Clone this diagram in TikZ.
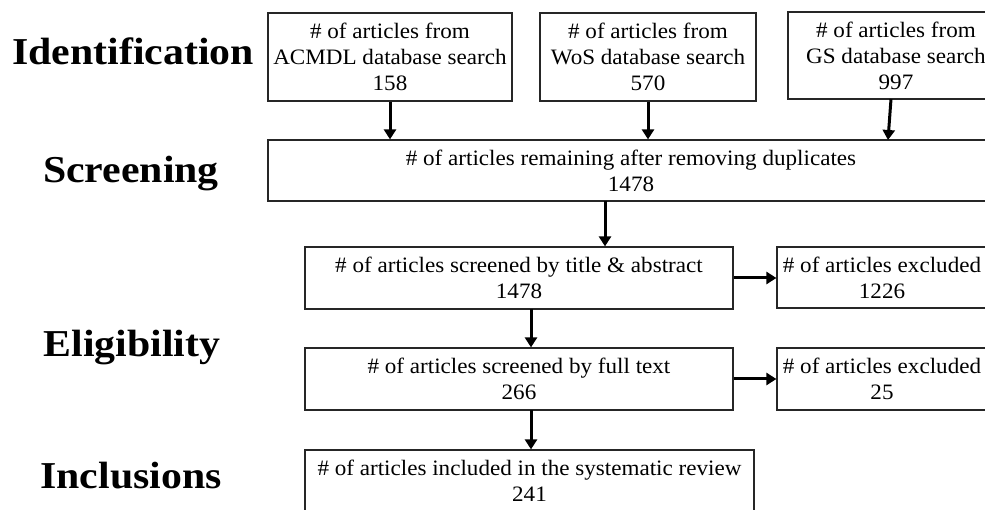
\documentclass[tikz,border=0pt]{standalone}
\usepackage{fontspec}
\setmainfont{Liberation Serif}[FakeStretch=1.05]
\newfontfamily\labfont{Liberation Serif}[FakeStretch=1.1]
\usetikzlibrary{arrows.meta}
\begin{document}
\begin{tikzpicture}[x=1pt,y=-1pt,
  box/.style={draw=black!85, line width=1.2pt, inner sep=0pt, align=center,
    font=\fontsize{22}{26}\selectfont},
  phase/.style={anchor=base, inner sep=0pt, font=\labfont\bfseries\fontsize{38}{40}\selectfont},
  arr/.style={line width=3pt, -{Triangle[length=10pt,width=12pt]}}]
\useasboundingbox (0,0) rectangle (985,510);
% phase labels
\node[phase] (l1) at (133,65) {Identification};
\node[phase] (l2) at (131,183) {Screening};
\node[phase] (l3) at (132,356) {Eligibility};
\node[phase] (l4) at (131,488) {Inclusions};
% boxes
\node[box, minimum width=244pt, minimum height=88pt] (A) at (390,57)
  {\# of articles from\\ACMDL database search\\158};
\node[box, minimum width=216pt, minimum height=88pt] (B) at (648,57)
  {\# of articles from\\WoS database search\\570};
\node[box, minimum width=216pt, minimum height=87pt] (C) at (896,55.5)
  {\# of articles from\\GS database search\\997};
\node[box, minimum width=726pt, minimum height=61pt] (D) at (631,170.5)
  {\# of articles remaining after removing duplicates\\1478};
\node[box, minimum width=428pt, minimum height=62pt] (E) at (519,278)
  {\# of articles screened by title \& abstract\\1478};
\node[box, minimum width=210pt, minimum height=61pt] (F) at (882,277.5)
  {\# of articles excluded\\1226};
\node[box, minimum width=428pt, minimum height=62pt] (G) at (519,379)
  {\# of articles screened by full text\\266};
\node[box, minimum width=210pt, minimum height=62pt] (H) at (882,379)
  {\# of articles excluded\\25};
\node[box, minimum width=449pt, minimum height=62pt] (I) at (529.5,481)
  {\# of articles included in the systematic review\\241};
% connector end points
\coordinate (cs) at (891,99);
\coordinate (ce) at (888,140);
\coordinate (ds) at (605,201);
\coordinate (es) at (531,309);
\coordinate (gs) at (531,410);
% arrows
\draw[arr] (A.south) -- (A.south |- D.north);
\draw[arr] (B.south) -- (B.south |- D.north);
\draw[arr] (cs) -- (ce);
\draw[arr] (ds) -- (ds |- E.north);
\draw[arr] (E.east) -- (F.west |- E.east);
\draw[arr] (es) -- (es |- G.north);
\draw[arr] (G.east) -- (H.west |- G.east);
\draw[arr] (gs) -- (gs |- I.north);
\end{tikzpicture}
\end{document}
